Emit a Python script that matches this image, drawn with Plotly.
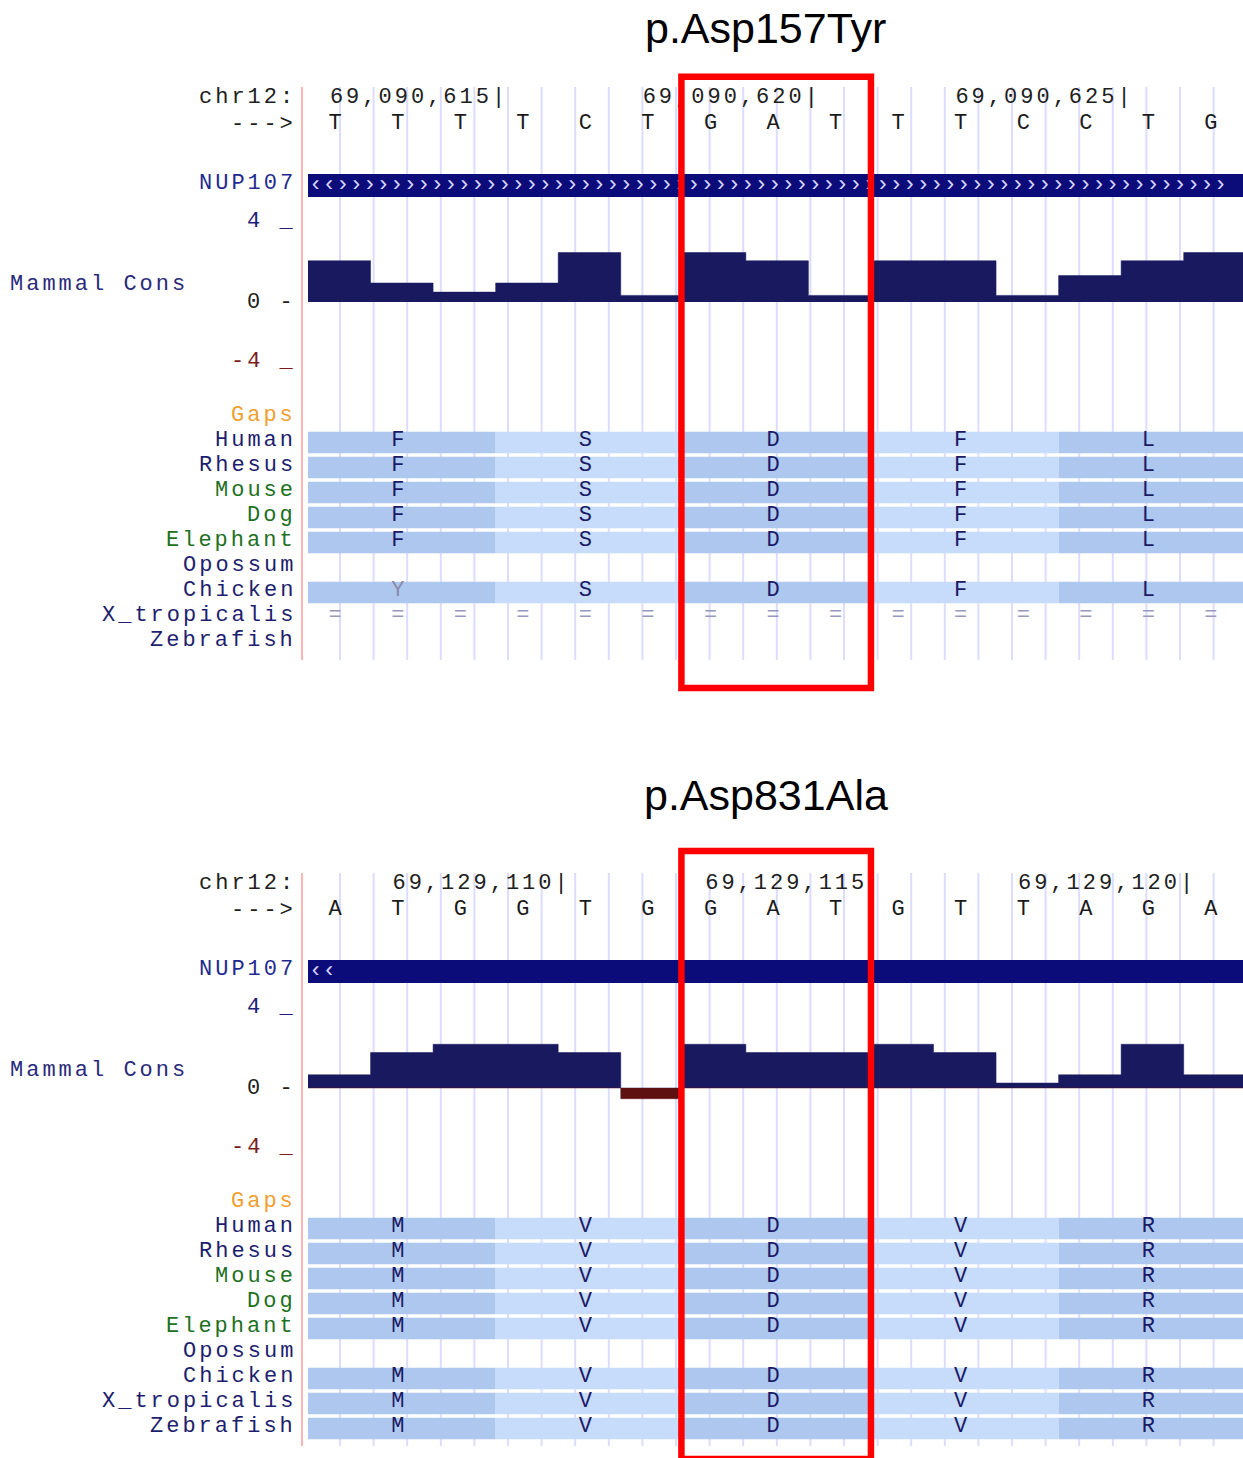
import plotly.graph_objects as go
import numpy as np

W, H = 1243, 1458

# ---------------- data ----------------
titles = ["p.Asp157Tyr", "p.Asp831Ala"]
chrom_label = "chr12:"
strand_label = "--->"
gene_name = "NUP107"
cons_name = "Mammal Cons"
cons_tick_labels = ["4 _", "0 -", "-4 _"]
gaps_label = "Gaps"

bases_top = ["T", "T", "T", "T", "C", "T", "G", "A", "T", "T", "T", "C", "C", "T", "G"]
bases_bot = ["A", "T", "G", "G", "T", "G", "G", "A", "T", "G", "T", "T", "A", "G", "A"]

ruler_idx_top = [3, 8, 13]
ruler_lbl_top = ["69,090,615|", "69,090,620|", "69,090,625|"]
ruler_idx_bot = [4, 9, 14]
ruler_lbl_bot = ["69,129,110|", "69,129,115", "69,129,120|"]

cons_top = [2.5, 1.15, 0.6, 1.15, 3.0, 0.4, 3.0, 2.5, 0.4, 2.5, 2.5, 0.4, 1.6, 2.5, 3.0]
cons_bot = [0.8, 2.15, 2.65, 2.65, 2.15, -0.65, 2.65, 2.15, 2.15, 2.65, 2.15, 0.3, 0.8, 2.65, 0.8]

species = ["Human", "Rhesus", "Mouse", "Dog", "Elephant", "Opossum",
           "Chicken", "X_tropicalis", "Zebrafish"]
species_green = ["Mouse", "Dog", "Elephant"]

aa_top = ["FSDFL", "FSDFL", "FSDFL", "FSDFL", "FSDFL", "", "YSDFL", "=", ""]
aa_bot = ["MVDVR", "MVDVR", "MVDVR", "MVDVR", "MVDVR", "", "MVDVR", "MVDVR", "MVDVR"]

highlight_codon = 2

# ---------------- styles / layout geometry ----------------
PX0, BW = 308.0, 62.55          # pixel of first base edge, pixels per base
DY = 786                        # vertical offset of second panel
TITLE_DY = 767
MONO = "Liberation Mono"
FS = 22
LSP = 3                         # extra letter spacing (px) to mimic the wide UCSC font
NAVY_TXT = "#1e1e6e"
GREEN_TXT = "#1e701e"
NUDGE = -0.065                  # small leftward nudge of glyphs in data area


def bx(px):
    return (px - PX0) / BW


def dom(top, bot):
    return [1 - bot / H, 1 - top / H]


def wide(t):
    return '<span style="letter-spacing:%dpx">%s</span>' % (LSP, t)


ROW0, ROWH = 442.5, 25.0

fig = go.Figure()
shapes = []
annotations = []

panels = [
    dict(bases=bases_top, ridx=ruler_idx_top, rlbl=ruler_lbl_top, cons=cons_top,
         aa=aa_top, chev=True, cy="y2", ay="y3"),
    dict(bases=bases_bot, ridx=ruler_idx_bot, rlbl=ruler_lbl_bot, cons=cons_bot,
         aa=aa_bot, chev=False, cy="y4", ay="y5"),
]

nb = len(bases_top)
grid_x = np.arange(bx(340), nb, 33.6 / BW)

for p, pn in enumerate(panels):
    dy = p * DY
    # guidelines
    gx, gy = [], []
    for x in grid_x:
        gx += [x, x, None]
        gy += [87 + dy, 660 + dy, None]
    fig.add_trace(go.Scatter(x=gx, y=gy, mode="lines", line=dict(color="#dcdcff", width=2),
                             hoverinfo="skip", showlegend=False, xaxis="x", yaxis="y"))
    # pink separator
    fig.add_trace(go.Scatter(x=[bx(302), bx(302)], y=[87 + dy, 660 + dy], mode="lines",
                             line=dict(color="#ffb4b4", width=2), hoverinfo="skip",
                             showlegend=False, xaxis="x", yaxis="y"))
    # gene bar
    fig.add_trace(go.Scatter(x=[0, nb, nb, 0, 0],
                             y=[174 + dy, 174 + dy, 197 + dy, 197 + dy, 174 + dy],
                             mode="lines", fill="toself", fillcolor="#0b0b79",
                             line=dict(width=0, color="#0b0b79"), hoverinfo="skip",
                             showlegend=False, xaxis="x", yaxis="y"))
    chev = "\u2039\u2039" + ("\u203a" * 66 if pn["chev"] else "")
    fig.add_trace(go.Scatter(x=[bx(309)], y=[185.5 + dy], mode="text", text=[chev],
                             textposition="middle right",
                             textfont=dict(family=MONO, size=22.5, color="#d4d4ff"),
                             hoverinfo="skip", showlegend=False, xaxis="x", yaxis="y"))
    # ruler labels
    cw = (FS * 0.6 + LSP) / BW
    rx = [i + 0.2 - (0 if t.endswith("|") else cw) for i, t in zip(pn["ridx"], pn["rlbl"])]
    fig.add_trace(go.Scatter(x=rx, y=[97 + dy] * len(rx), mode="text",
                             text=[wide(t) for t in pn["rlbl"]],
                             textposition="middle left",
                             textfont=dict(family=MONO, size=FS, color="#202020"),
                             hoverinfo="skip", showlegend=False, xaxis="x", yaxis="y"))
    # bases
    fig.add_trace(go.Scatter(x=[i + 0.5 + NUDGE for i in range(nb)], y=[123 + dy] * nb,
                             mode="text", text=pn["bases"], textposition="middle center",
                             textfont=dict(family=MONO, size=FS, color="#1a1a1a"),
                             hoverinfo="skip", showlegend=False, xaxis="x", yaxis="y"))
    # conservation
    vals = pn["cons"]
    xs = list(range(nb + 1))
    pos = [max(v, 0) for v in vals]
    neg = [min(v, 0) for v in vals]
    fig.add_trace(go.Scatter(x=xs, y=pos + [pos[-1]], mode="lines", line_shape="hv",
                             fill="tozeroy", fillcolor="#191960",
                             line=dict(width=0.5, color="#191960"), hoverinfo="skip",
                             showlegend=False, xaxis="x", yaxis=pn["cy"]))
    if any(v < 0 for v in vals):
        fig.add_trace(go.Scatter(x=xs, y=neg + [neg[-1]], mode="lines", line_shape="hv",
                                 fill="tozeroy", fillcolor="#5e1010",
                                 line=dict(width=0.5, color="#5e1010"), hoverinfo="skip",
                                 showlegend=False, xaxis="x", yaxis=pn["cy"]))
    # alignment
    ayref = pn["ay"]
    ref = pn["aa"][0]
    nx, ny, nt, mx, my, mt, ex, ey, et = [], [], [], [], [], [], [], [], []
    for k, row in enumerate(pn["aa"]):
        if row == "=":
            ex += [i + 0.5 + NUDGE for i in range(nb)]
            ey += [k - 0.08] * nb
            et += ["="] * nb
            continue
        for c, aa in enumerate(row):
            shapes.append(dict(type="rect", xref="x", yref=ayref, x0=3 * c, x1=3 * c + 3,
                               y0=k - 0.43, y1=k + 0.43, layer="below", line=dict(width=0),
                               fillcolor="#aec7ee" if c % 2 == 0 else "#c7dbfb"))
            if aa == ref[c]:
                nx.append(3 * c + 1.5 + NUDGE); ny.append(k - 0.08); nt.append(aa)
            else:
                mx.append(3 * c + 1.5 + NUDGE); my.append(k - 0.08); mt.append(aa)
    for X, Y, T, col in [(nx, ny, nt, "#1a1a66"), (mx, my, mt, "#8a8aaa"), (ex, ey, et, "#9898c0")]:
        if X:
            fig.add_trace(go.Scatter(x=X, y=Y, mode="text", text=T, textposition="middle center",
                                     textfont=dict(family=MONO, size=FS, color=col),
                                     hoverinfo="skip", showlegend=False, xaxis="x", yaxis=ayref))
    # highlight box
    y0 = 76.7 if p == 0 else 851
    y1 = 688 if p == 0 else 1459
    shapes.append(dict(type="rect", xref="x", yref="y", x0=3 * highlight_codon - 0.03,
                       x1=3 * highlight_codon + 3, y0=y0, y1=y1, layer="above",
                       line=dict(color="#ff0000", width=6.5)))

    # labels
    def lab(text, y, color, yref="y", xanchor="right", x=bx(298)):
        annotations.append(dict(text=wide(text), x=x, y=y, xref="x", yref=yref, xanchor=xanchor,
                                yanchor="middle", showarrow=False,
                                font=dict(family=MONO, size=FS, color=color)))
    lab(chrom_label, 97 + dy, "#202020")
    lab(strand_label, 124 + dy, "#202020")
    lab(gene_name, 183 + dy, "#1f2a8f")
    lab(cons_tick_labels[0], 221 + dy, "#1e1e78")
    lab(cons_name, 284 + dy, "#2a2a7a", xanchor="left", x=bx(8))
    lab(cons_tick_labels[1], 302 + dy, "#202020")
    lab(cons_tick_labels[2], 361 + dy, "#7a1c1c")
    lab(gaps_label, -1 - 0.08, "#f0a030", yref=ayref)
    for k, s in enumerate(species):
        lab(s, k - 0.08, GREEN_TXT if s in species_green else NAVY_TXT, yref=ayref)

    annotations.append(dict(text=titles[p], x=765.5 / W, y=28 + p * TITLE_DY, xref="paper",
                            yref="y", xanchor="center", yanchor="middle", showarrow=False,
                            font=dict(family="Liberation Sans, Arial", size=43, color="#000000")))

ax_common = dict(visible=False, showgrid=False, zeroline=False, fixedrange=True)
cons_range = [-4, 4]
aln_range = [(670 - ROW0) / ROWH, (380 - ROW0) / ROWH]

fig.update_layout(
    width=W, height=H, margin=dict(l=0, r=0, t=0, b=0),
    paper_bgcolor="#ffffff", plot_bgcolor="rgba(0,0,0,0)", showlegend=False,
    xaxis=dict(range=[bx(0), bx(W)], domain=[0, 1], **ax_common),
    yaxis=dict(range=[H, 0], domain=[0, 1], anchor="x", **ax_common),
    yaxis2=dict(range=cons_range, domain=dom(236, 368), anchor="x", **ax_common),
    yaxis3=dict(range=aln_range, domain=dom(380, 670), anchor="x", **ax_common),
    yaxis4=dict(range=cons_range, domain=dom(236 + DY, 368 + DY), anchor="x", **ax_common),
    yaxis5=dict(range=aln_range, domain=dom(380 + DY, 670 + DY), anchor="x", **ax_common),
    shapes=shapes, annotations=annotations,
)

fig.write_html("out.html", config={"displayModeBar": False},
               post_script="document.body.style.margin='0px';")
